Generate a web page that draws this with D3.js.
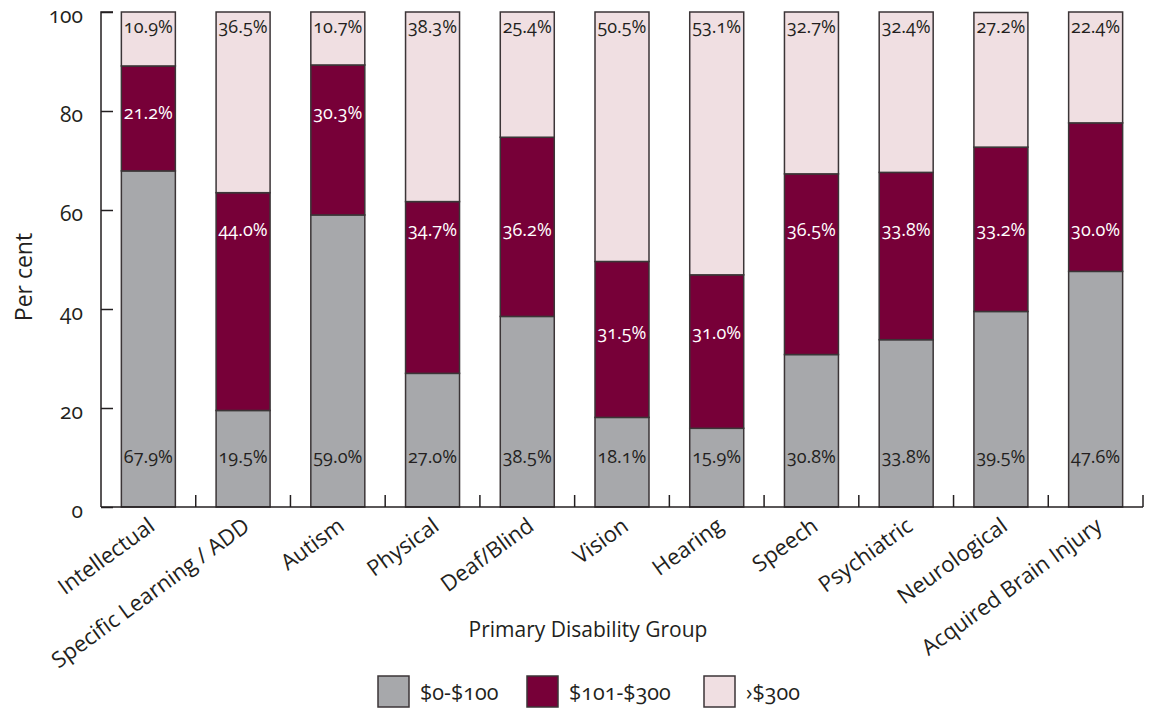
<!DOCTYPE html>
<html>
<head>
<meta charset="utf-8">
<script src="https://cdn.jsdelivr.net/npm/d3@7"></script>
<style>
  html, body { margin: 0; padding: 0; background: #fff; }
  svg text { font-family: "Open Sans", Lato, sans-serif; fill: #231f20; font-variant-numeric: oldstyle-nums; font-feature-settings: "onum" 1; }
</style>
</head>
<body>
<svg id="chart" width="1150" height="713"></svg>
<script>
// Share of participants by annual cost band, per primary disability group (%)
const categories = ["Intellectual", "Specific Learning / ADD", "Autism", "Physical", "Deaf/Blind",
  "Vision", "Hearing", "Speech", "Psychiatric", "Neurological", "Acquired Brain Injury"];
const low  = [67.9, 19.5, 59.0, 27.0, 38.5, 18.1, 15.9, 30.8, 33.8, 39.5, 47.6];
const mid  = [21.2, 44.0, 30.3, 34.7, 36.2, 31.5, 31.0, 36.5, 33.8, 33.2, 30.0];
const high = [10.9, 36.5, 10.7, 38.3, 25.4, 50.5, 53.1, 32.7, 32.4, 27.2, 22.4];
const seriesNames = ["$0-$100", "$101-$300", "\u203A$300"];
const yTicks = [0, 20, 40, 60, 80, 100];

// Layout
const plot = { left: 101, right: 1143, top: 12, bottom: 507 };
const colors = ["#a7a8ab", "#770038", "#f0dfe2"];
const labelColors = ["#231f20", "#ffffff", "#231f20"];
// level (in % units) at which each segment's value label sits
const lowLabelLevel = 10.2, highLabelLevel = 97;
const midLabelLevel = [79.6, 56, 79.6, 56, 56, 35.2, 35.2, 56, 56, 56, 56];

const svg = d3.select("#chart");

const x = d3.scaleBand().domain(categories).range([plot.left, plot.right]).paddingInner(0.43).paddingOuter(0.215);
const y = d3.scaleLinear().domain([0, 100]).range([plot.bottom, plot.top]);

const rows = categories.map((c, i) => ({ cat: c, s0: low[i], s1: mid[i], s2: high[i] }));
const stacked = d3.stack().keys(["s0", "s1", "s2"])(rows);

// Bars
const g = svg.append("g");
stacked.forEach((layer, k) => {
  g.selectAll(null).data(layer).enter().append("rect")
    .attr("x", d => x(d.data.cat))
    .attr("width", x.bandwidth())
    .attr("y", d => y(Math.min(d[1], 100)))
    .attr("height", d => y(d[0]) - y(Math.min(d[1], 100)))
    .attr("fill", colors[k])
    .attr("stroke", "#3b3537")
    .attr("stroke-width", 1.5);
});

// Segment value labels
const fmt = v => v.toFixed(1) + "%";
const labelLayer = svg.append("g").attr("font-size", 18).attr("text-anchor", "middle");
[low, mid, high].forEach((vals, k) => {
  labelLayer.selectAll(null).data(vals).enter().append("text")
    .attr("x", (v, i) => x(categories[i]) + x.bandwidth() / 2)
    .attr("y", (v, i) => y(k === 0 ? lowLabelLevel : k === 1 ? midLabelLevel[i] : highLabelLevel))
    .attr("dy", "0.35em")
    .style("fill", labelColors[k])
    .text(fmt);
});

// Y axis
const yAxis = d3.axisRight(y).tickValues(yTicks).tickSize(12).tickFormat(d3.format("d"));
const ya = svg.append("g").attr("transform", `translate(${plot.left},0)`).call(yAxis);
ya.select(".domain").attr("stroke", "#231f20").attr("stroke-width", 1.5)
  .attr("d", `M12,${plot.top}H0V${plot.bottom}`);
ya.selectAll(".tick line").attr("stroke", "#231f20").attr("stroke-width", 1.5);
ya.selectAll(".tick text").attr("x", -18).attr("text-anchor", "end").attr("font-size", 21)
  .attr("font-family", null).attr("dy", "0.52em");

// X axis: inward ticks on band boundaries
const xa = svg.append("g");
xa.append("line").attr("x1", plot.left).attr("x2", plot.right).attr("y1", plot.bottom).attr("y2", plot.bottom)
  .attr("stroke", "#231f20").attr("stroke-width", 1.5);
const step = x.step();
xa.selectAll(null).data(categories).enter().append("line")
  .attr("x1", (c) => x(c) - x.paddingOuter() * step + step)
  .attr("x2", (c) => x(c) - x.paddingOuter() * step + step)
  .attr("y1", plot.bottom).attr("y2", plot.bottom - 12)
  .attr("stroke", "#231f20").attr("stroke-width", 1.5);
xa.selectAll(null).data(categories).enter().append("text")
  .attr("transform", c => `translate(${x(c) + x.bandwidth() / 2 + 8},${plot.bottom + 22}) rotate(-36)`)
  .attr("text-anchor", "end")
  .attr("font-size", 22)
  .text(c => c);

// Axis titles
svg.append("text").attr("transform", `translate(32,277) rotate(-90)`)
  .attr("text-anchor", "middle").attr("font-size", 23).text("Per cent");
svg.append("text").attr("x", 588).attr("y", 637).attr("text-anchor", "middle").attr("font-size", 21)
  .text("Primary Disability Group");

// Legend
const legendX = [378, 527, 704];
const lg = svg.append("g");
seriesNames.forEach((name, k) => {
  lg.append("rect").attr("x", legendX[k]).attr("y", 676).attr("width", 31).attr("height", 31)
    .attr("fill", colors[k]).attr("stroke", "#3b3537").attr("stroke-width", 1.5);
  lg.append("text").attr("x", legendX[k] + 42).attr("y", 692).attr("dy", "0.35em")
    .attr("font-size", 21.5).text(name);
});
</script>
</body>
</html>
